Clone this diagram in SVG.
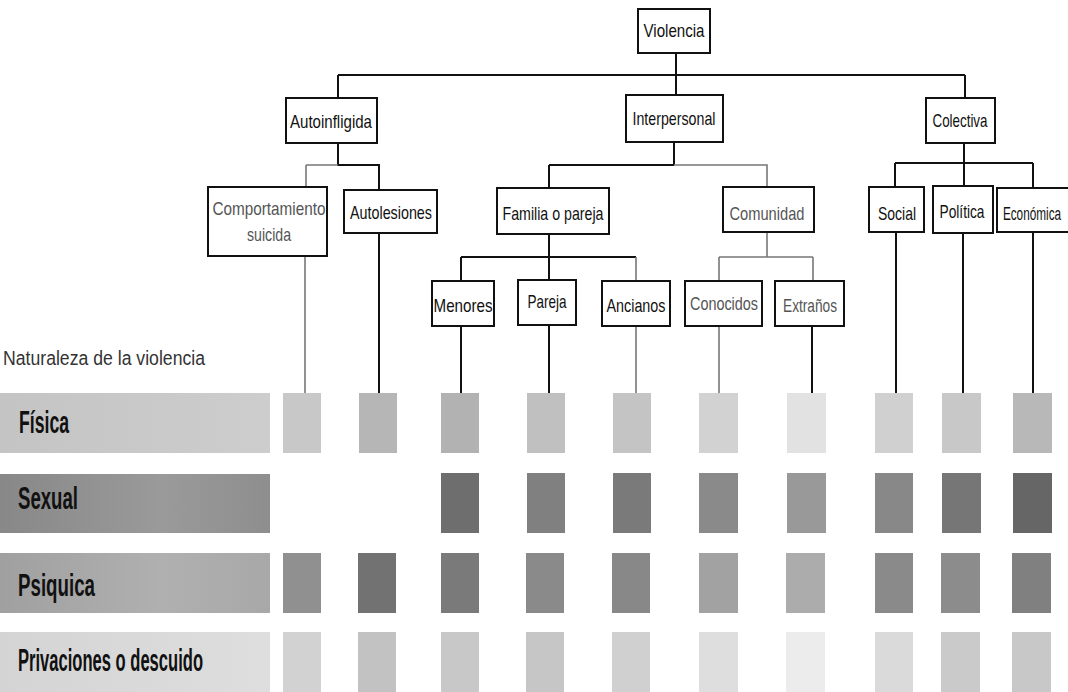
<svg xmlns="http://www.w3.org/2000/svg" width="1068" height="692" viewBox="0 0 1068 692">
<defs>
<style>
.box{fill:#fff;stroke:#111;stroke-width:2}
.t{font-family:"Liberation Sans",Arial,sans-serif;font-size:19px;fill:#111;text-anchor:middle}
.tg{fill:#555}
.ln{stroke:#111;stroke-width:2;fill:none}
.lg{stroke:#777;stroke-width:1.6;fill:none}
.lbl{font-family:"Liberation Sans",Arial,sans-serif;font-weight:bold;font-size:31px;fill:#111}
</style>
<linearGradient id="gF" x1="0" x2="1"><stop offset="0" stop-color="#c4c4c4"/><stop offset="1" stop-color="#cdcdcd"/></linearGradient>
<linearGradient id="gS" x1="0" x2="1"><stop offset="0" stop-color="#888"/><stop offset="0.6" stop-color="#9a9a9a"/><stop offset="1" stop-color="#8e8e8e"/></linearGradient>
<linearGradient id="gP" x1="0" x2="1"><stop offset="0" stop-color="#a0a0a0"/><stop offset="0.6" stop-color="#b0b0b0"/><stop offset="1" stop-color="#a8a8a8"/></linearGradient>
<linearGradient id="gD" x1="0" x2="1"><stop offset="0" stop-color="#d4d4d4"/><stop offset="1" stop-color="#dedede"/></linearGradient>
</defs>
<rect width="1068" height="692" fill="#fff"/>

<g id="connectors">
<path class="ln" d="M676 53V95M338 75H965M338 75V98M965 75V98"/>
<path class="ln" d="M338 143V165H380M379 165V190"/>
<path class="lg" d="M306 165H338M306 165V187M305 256V393"/>
<path class="ln" d="M379 233V393"/>
<path class="ln" d="M674 142V165M549 165H674M549 165V188"/>
<path class="lg" d="M674 165H767V187"/>
<path class="ln" d="M964 143V163M895 163H1033M895 163V187M964 163V186M1033 163V188"/>
<path class="ln" d="M549 234V257M461 257H636M461 257V281M549 257V280"/>
<path class="lg" d="M636 257V281"/>
<path class="lg" d="M767 232V257M719 257H813M719 257V281M813 257V281"/>
<path class="ln" d="M461 326V393M549 325V393M812 326V393M896 232V393M963 233V393M1033 232V393"/>
<path class="lg" d="M636 326V393M719 326V393"/>
</g>

<g id="n-violencia"><rect class="box" x="638" y="9" width="72" height="44"/><text class="t" x="674" y="37" textLength="61" lengthAdjust="spacingAndGlyphs">Violencia</text></g>
<g id="n-autoinfligida"><rect class="box" x="286" y="98" width="91" height="45"/><text class="t" x="331" y="128" textLength="82" lengthAdjust="spacingAndGlyphs">Autoinfligida</text></g>
<g id="n-interpersonal"><rect class="box" x="626" y="95" width="97" height="47"/><text class="t" x="674" y="125" textLength="83" lengthAdjust="spacingAndGlyphs">Interpersonal</text></g>
<g id="n-colectiva"><rect class="box" x="926" y="98" width="69" height="45"/><text class="t" x="960" y="127" textLength="55" lengthAdjust="spacingAndGlyphs">Colectiva</text></g>

<g id="n-comportamiento"><rect class="box" x="208" y="187" width="119" height="69"/><text class="t tg" x="269" y="215" textLength="113" lengthAdjust="spacingAndGlyphs">Comportamiento</text><text class="t tg" x="269" y="241" textLength="44" lengthAdjust="spacingAndGlyphs">suicida</text></g>
<g id="n-autolesiones"><rect class="box" x="344" y="190" width="93" height="43"/><text class="t" x="391" y="219" textLength="82" lengthAdjust="spacingAndGlyphs">Autolesiones</text></g>
<g id="n-familia"><rect class="box" x="497" y="188" width="112" height="46"/><text class="t" x="553" y="220" textLength="101" lengthAdjust="spacingAndGlyphs">Familia o pareja</text></g>
<g id="n-comunidad"><rect class="box" x="723" y="187" width="91" height="45"/><text class="t tg" x="767" y="220" textLength="75" lengthAdjust="spacingAndGlyphs">Comunidad</text></g>
<g id="n-social"><rect class="box" x="869" y="187" width="55" height="45"/><text class="t" x="897" y="220" textLength="38" lengthAdjust="spacingAndGlyphs">Social</text></g>
<g id="n-politica"><rect class="box" x="933" y="186" width="60" height="47"/><text class="t" x="962" y="218" textLength="45" lengthAdjust="spacingAndGlyphs">Política</text></g>
<g id="n-economica"><path class="box" d="M1068 188H997V232H1068"/><text class="t" transform="translate(1032 220) scale(0.62 1)" x="0" y="0">Económica</text></g>

<g id="n-menores"><rect class="box" x="432" y="281" width="62" height="45"/><text class="t" x="463" y="312" textLength="59" lengthAdjust="spacingAndGlyphs">Menores</text></g>
<g id="n-pareja"><rect class="box" x="518" y="280" width="58" height="45"/><text class="t" x="547" y="308" textLength="39" lengthAdjust="spacingAndGlyphs">Pareja</text></g>
<g id="n-ancianos"><rect class="box" x="602" y="281" width="68" height="45"/><text class="t" x="636" y="312" textLength="59" lengthAdjust="spacingAndGlyphs">Ancianos</text></g>
<g id="n-conocidos"><rect class="box" x="685" y="281" width="77" height="45"/><text class="t tg" x="724" y="310" textLength="68" lengthAdjust="spacingAndGlyphs">Conocidos</text></g>
<g id="n-extranos"><rect class="box" x="775" y="281" width="69" height="45"/><text class="t tg" x="810" y="312" textLength="54" lengthAdjust="spacingAndGlyphs">Extraños</text></g>

<g id="heading"><text x="3" y="365" font-family="'Liberation Sans',Arial,sans-serif" font-size="20" fill="#333" textLength="202" lengthAdjust="spacingAndGlyphs">Naturaleza de la violencia</text></g>

<g id="row-fisica">
<rect x="0" y="393" width="270" height="60" fill="url(#gF)"/>
<text class="lbl" x="19" y="433" textLength="50" lengthAdjust="spacingAndGlyphs">Física</text>
<g>
<rect x="283" y="393" width="38" height="60" fill="#c8c8c8"/>
<rect x="359" y="393" width="38" height="60" fill="#b6b6b6"/>
<rect x="441" y="393" width="38" height="60" fill="#b2b2b2"/>
<rect x="527" y="393" width="38" height="60" fill="#c0c0c0"/>
<rect x="613" y="393" width="38" height="60" fill="#c4c4c4"/>
<rect x="699" y="393" width="39" height="60" fill="#d2d2d2"/>
<rect x="787" y="393" width="39" height="60" fill="#e2e2e2"/>
<rect x="875" y="393" width="38" height="60" fill="#d0d0d0"/>
<rect x="942" y="393" width="39" height="60" fill="#c8c8c8"/>
<rect x="1013" y="393" width="39" height="60" fill="#b8b8b8"/>
</g>
</g>

<g id="row-sexual">
<rect x="0" y="474" width="270" height="59" fill="url(#gS)"/>
<text class="lbl" x="18" y="509" textLength="60" lengthAdjust="spacingAndGlyphs">Sexual</text>
<g>
<rect x="441" y="473" width="38" height="60" fill="#6e6e6e"/>
<rect x="527" y="473" width="38" height="60" fill="#808080"/>
<rect x="613" y="473" width="38" height="60" fill="#7a7a7a"/>
<rect x="699" y="473" width="39" height="60" fill="#8a8a8a"/>
<rect x="787" y="473" width="39" height="60" fill="#999"/>
<rect x="875" y="473" width="38" height="60" fill="#888"/>
<rect x="942" y="473" width="39" height="60" fill="#767676"/>
<rect x="1013" y="473" width="39" height="60" fill="#666"/>
</g>
</g>

<g id="row-psiquica">
<rect x="0" y="553" width="270" height="60" fill="url(#gP)"/>
<text class="lbl" x="18" y="596" textLength="77" lengthAdjust="spacingAndGlyphs">Psiquica</text>
<g>
<rect x="283" y="553" width="38" height="60" fill="#909090"/>
<rect x="358" y="553" width="38" height="60" fill="#727272"/>
<rect x="441" y="553" width="38" height="60" fill="#7a7a7a"/>
<rect x="526" y="553" width="38" height="60" fill="#8a8a8a"/>
<rect x="612" y="553" width="38" height="60" fill="#888"/>
<rect x="699" y="553" width="39" height="60" fill="#a2a2a2"/>
<rect x="786" y="553" width="39" height="60" fill="#acacac"/>
<rect x="875" y="553" width="38" height="60" fill="#8a8a8a"/>
<rect x="941" y="553" width="39" height="60" fill="#8c8c8c"/>
<rect x="1012" y="553" width="39" height="60" fill="#808080"/>
</g>
</g>

<g id="row-privaciones">
<rect x="0" y="632" width="270" height="60" fill="url(#gD)"/>
<text class="lbl" x="18" y="671" textLength="185" lengthAdjust="spacingAndGlyphs">Privaciones o descuido</text>
<g>
<rect x="283" y="632" width="38" height="60" fill="#d2d2d2"/>
<rect x="358" y="632" width="38" height="60" fill="#c2c2c2"/>
<rect x="441" y="632" width="38" height="60" fill="#c8c8c8"/>
<rect x="526" y="632" width="38" height="60" fill="#c6c6c6"/>
<rect x="612" y="632" width="38" height="60" fill="#d0d0d0"/>
<rect x="699" y="632" width="39" height="60" fill="#dedede"/>
<rect x="786" y="632" width="39" height="60" fill="#ececec"/>
<rect x="875" y="632" width="38" height="60" fill="#dadada"/>
<rect x="941" y="632" width="39" height="60" fill="#cacaca"/>
<rect x="1012" y="632" width="39" height="60" fill="#c8c8c8"/>
</g>
</g>
</svg>
